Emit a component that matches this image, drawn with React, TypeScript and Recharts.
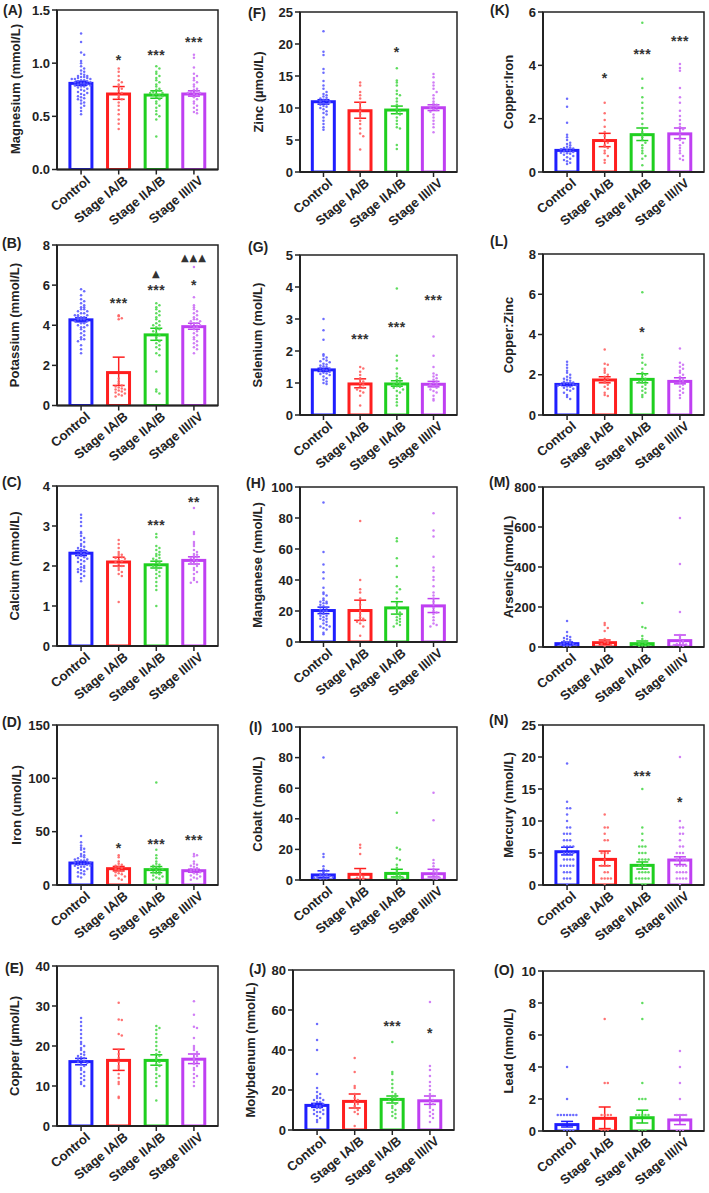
import React from "react";
import {
  Bar,
  ComposedChart,
  ErrorBar,
  ReferenceArea,
  Scatter,
  XAxis,
  YAxis,
} from "recharts";

// groups shared by every panel
const groups = ["Control", "Stage IA/B", "Stage IIA/B", "Stage III/IV"];
const barColors = ["#1f1fff", "#ff1f1f", "#1fcf1f", "#bf3ff2"];
const dotColors = ["#5c5cff", "#ff6262", "#4ed84e", "#cc70f5"];

// (A) Magnesium
const mgMeans = [0.81, 0.71, 0.7, 0.71];
const mgErr = [[0.79, 0.83], [0.66, 0.78], [0.67, 0.74], [0.69, 0.74]];
const mgDots = [
  [1.28, 1.2, 1.1, 1.08, 1.02, 1.0, 0.97, 0.95, 0.93, 0.92, 0.9, 0.89, 0.88, 0.88, 0.87, 0.87, 0.86, 0.86, 0.85, 0.85, 0.85, 0.84, 0.84, 0.83, 0.83, 0.82, 0.82, 0.81, 0.81, 0.8, 0.8, 0.79, 0.79, 0.78, 0.78, 0.77, 0.76, 0.75, 0.74, 0.73, 0.72, 0.71, 0.7, 0.69, 0.68, 0.67, 0.66, 0.65, 0.63, 0.62, 0.6, 0.58, 0.55, 0.52],
  [0.95, 0.92, 0.88, 0.84, 0.82, 0.8, 0.78, 0.76, 0.74, 0.72, 0.7, 0.68, 0.66, 0.63, 0.6, 0.56, 0.52, 0.47, 0.43, 0.38],
  [0.97, 0.95, 0.92, 0.9, 0.88, 0.86, 0.84, 0.82, 0.8, 0.78, 0.76, 0.75, 0.74, 0.73, 0.72, 0.72, 0.71, 0.7, 0.7, 0.69, 0.68, 0.66, 0.64, 0.62, 0.6, 0.58, 0.55, 0.52, 0.5, 0.47, 0.31],
  [1.08, 1.05, 0.96, 0.9, 0.88, 0.86, 0.84, 0.82, 0.8, 0.78, 0.76, 0.75, 0.74, 0.73, 0.72, 0.72, 0.71, 0.7, 0.68, 0.66, 0.64, 0.62, 0.6, 0.58, 0.56, 0.54, 0.53],
];
const mgSig = [[1, "*", 1.05], [2, "***", 1.1], [3, "***", 1.22]];

// (B) Potassium
const kMeans = [4.27, 1.64, 3.52, 3.93];
const kErr = [[4.17, 4.38], [1.0, 2.41], [3.25, 3.85], [3.8, 4.1]];
const kDots = [
  [5.8, 5.7, 5.5, 5.3, 5.2, 5.1, 5.0, 4.9, 4.9, 4.8, 4.8, 4.7, 4.7, 4.6, 4.6, 4.5, 4.5, 4.5, 4.4, 4.4, 4.4, 4.3, 4.3, 4.3, 4.2, 4.2, 4.1, 4.1, 4.0, 4.0, 3.9, 3.9, 3.8, 3.7, 3.6, 3.5, 3.4, 3.3, 3.3, 3.2, 3.0, 2.8, 2.6],
  [4.5, 4.45, 4.35, 4.3, 1.35, 1.2, 1.1, 1.0, 0.95, 0.9, 0.85, 0.8, 0.8, 0.75, 0.7, 0.65, 0.6, 0.55, 0.5, 0.45],
  [5.1, 5.0, 4.9, 4.8, 4.7, 4.6, 4.5, 4.4, 4.3, 4.2, 4.1, 4.0, 4.0, 3.9, 3.8, 3.8, 3.7, 3.6, 3.5, 3.4, 3.3, 3.2, 3.1, 3.0, 2.9, 2.8, 2.6, 2.5, 1.7, 0.8, 0.7, 0.6],
  [6.9, 5.4, 5.0, 4.9, 4.8, 4.7, 4.6, 4.5, 4.4, 4.3, 4.3, 4.2, 4.2, 4.1, 4.1, 4.0, 4.0, 3.9, 3.9, 3.8, 3.7, 3.6, 3.5, 3.4, 3.3, 3.2, 3.1, 3.0, 2.9, 2.8, 2.6],
];
const kSig = [[1, "***", 5.2], [2, "***", 5.84], [2, "▲", 6.59], [3, "*", 6.09], [3, "▲▲▲", 7.42]];

// (C) Calcium
const caMeans = [2.32, 2.1, 2.03, 2.14];
const caErr = [[2.26, 2.38], [2.0, 2.22], [1.95, 2.12], [2.05, 2.23]];
const caDots = [
  [3.28, 3.2, 3.1, 3.0, 2.85, 2.82, 2.75, 2.7, 2.65, 2.6, 2.55, 2.5, 2.48, 2.45, 2.42, 2.4, 2.38, 2.35, 2.33, 2.3, 2.28, 2.25, 2.22, 2.2, 2.18, 2.15, 2.12, 2.1, 2.05, 2.0, 1.97, 1.95, 1.92, 1.9, 1.87, 1.85, 1.8, 1.75, 1.7, 1.62],
  [2.65, 2.55, 2.45, 2.35, 2.3, 2.28, 2.25, 2.22, 2.2, 2.18, 2.15, 2.12, 2.1, 2.05, 2.0, 1.95, 1.9, 1.85, 1.8, 1.75, 1.1],
  [2.8, 2.72, 2.5, 2.45, 2.4, 2.35, 2.3, 2.28, 2.25, 2.2, 2.18, 2.15, 2.1, 2.08, 2.05, 2.0, 1.98, 1.95, 1.9, 1.85, 1.8, 1.75, 1.7, 1.6, 1.5, 1.4, 1.0],
  [3.45, 2.85, 2.8, 2.6, 2.55, 2.5, 2.4, 2.35, 2.3, 2.28, 2.25, 2.22, 2.2, 2.15, 2.12, 2.1, 2.05, 2.0, 1.95, 1.9, 1.85, 1.8, 1.7, 1.65, 1.6, 1.58],
];
const caSig = [[2, "***", 3.07], [3, "**", 3.65]];

// (D) Iron
const feMeans = [20.6, 15.3, 14.4, 13.4];
const feErr = [[19.2, 22.0], [13.2, 17.4], [11.5, 17.3], [12.0, 14.8]];
const feDots = [
  [46, 40, 37, 35, 34, 33, 31, 29, 28, 27, 26, 25, 24, 24, 23, 23, 22, 22, 21, 21, 20, 20, 19, 19, 18, 18, 17, 17, 16, 15, 14, 13, 12, 11, 10, 8, 7],
  [28, 26, 22, 20, 19, 18, 17, 16, 15, 14, 13, 12, 11, 10, 9, 8, 6, 5],
  [96, 33, 28, 25, 22, 20, 19, 18, 17, 16, 16, 15, 15, 14, 13, 12, 11, 10, 9, 8, 7, 6, 5],
  [29, 28, 27, 22, 20, 19, 18, 17, 16, 15, 14, 14, 13, 12, 11, 10, 9, 8, 7, 6, 5],
];
const feSig = [[1, "*", 37], [2, "***", 40], [3, "***", 44]];

// (E) Copper
const cuMeans = [16.1, 16.4, 16.4, 16.7];
const cuErr = [[15.3, 16.9], [13.9, 19.2], [15.2, 17.8], [15.6, 18.0]];
const cuDots = [
  [27, 26, 25, 24, 23, 22, 21, 20.5, 20, 19.5, 19, 18.5, 18, 17.8, 17.5, 17.2, 17, 16.8, 16.5, 16.2, 16, 15.8, 15.5, 15, 14.5, 14, 13.5, 13, 12.5, 12, 11.5, 11, 10.5, 10],
  [30.8, 26.6, 26.5, 23, 22.6, 19, 18, 17, 16, 15, 14.5, 13, 12, 11, 10.5, 7.3, 7.0],
  [25, 24.5, 24, 23, 22, 21, 20, 19, 18.5, 18, 17.5, 17, 16.5, 16, 15.5, 15, 14.5, 14, 13, 12.5, 12, 11, 10, 6.4],
  [31.2, 27.8, 24.8, 24.5, 22, 20, 19.5, 19, 18.5, 18, 17.5, 17, 16.5, 16, 15.5, 15, 14.5, 14, 13, 12.5, 12, 11, 10],
];
const cuSig: (string | number)[][] = [];

// (F) Zinc
const znMeans = [10.98, 9.57, 9.68, 10.04];
const znErr = [[10.6, 11.3], [8.4, 10.9], [9.1, 10.3], [9.6, 10.5]];
const znDots = [
  [22, 18.8, 18.3, 16.1, 15.5, 14.2, 13.5, 13, 12.5, 12.2, 12, 11.8, 11.6, 11.5, 11.3, 11.2, 11, 10.9, 10.8, 10.6, 10.5, 10.3, 10.2, 10, 9.8, 9.5, 9.2, 9, 8.5, 8, 7.5, 7, 6.6],
  [14, 13.5, 12.5, 12, 11.5, 10.8, 10, 9.5, 9, 8.5, 8, 7.5, 6.8, 6, 5.6, 3.5],
  [16.2, 14.3, 14, 13.5, 12.7, 12.2, 12, 11.5, 11, 10.5, 10, 9.8, 9.5, 9.2, 9, 8.5, 8, 7.5, 7, 6.8, 4.2, 3.6],
  [15.3, 14.8, 14, 13.5, 13, 12.5, 12, 11.5, 11, 10.7, 10.5, 10.3, 10.2, 10, 9.8, 9.7, 9.4, 9, 8.5, 8, 7.5, 7, 6.2],
];
const znSig = [[2, "*", 19.1]];

// (G) Selenium
const seMeans = [1.41, 0.97, 0.97, 0.96];
const seErr = [[1.36, 1.46], [0.85, 1.13], [0.9, 1.07], [0.88, 1.05]];
const seDots = [
  [3.0, 2.65, 2.35, 1.9, 1.85, 1.8, 1.75, 1.7, 1.68, 1.65, 1.6, 1.58, 1.55, 1.52, 1.5, 1.48, 1.45, 1.42, 1.4, 1.38, 1.35, 1.32, 1.3, 1.28, 1.25, 1.2, 1.15, 1.1, 1.05, 1.0, 0.97],
  [1.5, 1.45, 1.35, 1.25, 1.15, 1.1, 1.05, 1.0, 0.95, 0.9, 0.85, 0.8, 0.75, 0.7, 0.6, 0.3],
  [3.95, 1.85, 1.7, 1.45, 1.3, 1.2, 1.15, 1.1, 1.05, 1.0, 0.98, 0.95, 0.9, 0.88, 0.85, 0.8, 0.75, 0.7, 0.6, 0.5, 0.4, 0.3],
  [2.45, 1.85, 1.5, 1.3, 1.25, 1.2, 1.15, 1.1, 1.05, 1.0, 0.98, 0.95, 0.9, 0.85, 0.8, 0.75, 0.7, 0.6, 0.5, 0.45],
];
const seSig = [[1, "***", 2.43], [2, "***", 2.81], [3, "***", 3.67]];

// (H) Manganese
const mnMeans = [20.3, 20.3, 22.0, 23.3];
const mnErr = [[18.3, 22.5], [14.0, 27.0], [18.0, 26.0], [19.0, 28.0]];
const mnDots = [
  [90, 58, 50, 45, 41, 35, 32, 31, 30, 28, 27, 26, 26, 25, 25, 24, 23, 22, 21, 20, 20, 19, 18, 17, 17, 16, 15, 15, 14, 13, 12, 11, 10, 10, 9, 8, 6, 5],
  [78, 40, 34, 32, 28, 24, 20, 18, 16, 15, 14, 14, 13, 12, 10, 4],
  [67, 65, 54, 49, 42, 36, 34, 32, 28, 25, 22, 20, 19, 18, 17, 16, 15, 14, 13, 12, 11, 10],
  [83, 72, 68, 55, 48, 46, 42, 40, 36, 32, 30, 28, 26, 24, 22, 20, 19, 18, 16, 14, 12, 11, 10],
];
const mnSig: (string | number)[][] = [];

// (I) Cobalt
const coMeans = [3.3, 3.7, 4.3, 4.1];
const coErr = [[1.5, 6.0], [0.5, 7.5], [2.0, 7.0], [2.0, 7.0]];
const coDots = [
  [80, 17, 15, 9, 7, 6, 5, 4, 4, 3, 3, 3, 2.5, 2, 2, 1.5, 1, 1, 0.5],
  [23, 21, 17, 6, 4, 3, 2, 1.5, 1, 0.5],
  [44, 21, 20, 14, 13, 10, 8, 6, 5, 4, 3, 2.5, 2, 1.5, 1, 0.5],
  [57, 39, 13, 11, 9, 7, 6, 5, 4, 3, 2.5, 2, 1.5, 1, 0.5],
];
const coSig: (string | number)[][] = [];

// (J) Molybdenum
const moMeans = [12.3, 14.3, 15.3, 14.6];
const moErr = [[11.3, 13.3], [11.0, 18.0], [13.5, 17.0], [12.8, 17.0]];
const moDots = [
  [53, 45, 40, 28, 21, 19, 18, 17, 16, 16, 15, 15, 14, 14, 13, 13, 12, 12, 11, 11, 10, 10, 9, 9, 8, 8, 7, 6, 5, 4],
  [36, 29, 22, 21, 18, 16, 15, 14, 13, 12, 11, 10, 9, 8, 2],
  [44, 29, 28, 25, 23, 21, 19, 18, 17, 17, 16, 16, 15, 15, 14, 13, 12, 11, 10, 9, 8, 7, 6],
  [64, 32, 30, 27, 24, 22, 20, 18, 17, 17, 16, 15, 14, 13, 12, 11, 10, 9, 8, 7, 6, 4],
];
const moSig = [[2, "***", 52.9], [3, "*", 49.6]];

// (K) Copper:Iron
const cuFeMeans = [0.81, 1.18, 1.4, 1.43];
const cuFeErr = [[0.77, 0.85], [0.95, 1.45], [1.18, 1.65], [1.25, 1.65]];
const cuFeDots = [
  [2.75, 2.45, 1.85, 1.4, 1.3, 1.2, 1.1, 1.05, 1.0, 0.95, 0.92, 0.9, 0.88, 0.85, 0.82, 0.8, 0.78, 0.75, 0.72, 0.7, 0.68, 0.65, 0.6, 0.55, 0.5, 0.45, 0.4, 0.35, 0.3],
  [2.6, 2.2, 1.95, 1.7, 1.5, 1.35, 1.2, 1.1, 1.0, 0.95, 0.9, 0.8, 0.7, 0.6, 0.45, 0.35],
  [5.6, 3.5, 3.15, 2.8, 2.6, 2.4, 2.2, 2.0, 1.8, 1.65, 1.5, 1.4, 1.3, 1.2, 1.1, 1.0, 0.9, 0.8, 0.7, 0.6, 0.5, 0.25],
  [4.05, 3.9, 3.8, 3.15, 2.8, 2.6, 2.3, 2.1, 1.95, 1.8, 1.7, 1.6, 1.5, 1.4, 1.3, 1.2, 1.1, 1.0, 0.9, 0.8, 0.7, 0.6, 0.5, 0.45],
];
const cuFeSig = [[1, "*", 3.59], [2, "***", 4.5], [3, "***", 4.99]];

// (L) Copper:Zinc
const cuZnMeans = [1.52, 1.74, 1.77, 1.67];
const cuZnErr = [[1.46, 1.58], [1.6, 1.9], [1.6, 2.05], [1.55, 1.85]];
const cuZnDots = [
  [2.65, 2.5, 2.35, 2.2, 2.1, 2.0, 1.9, 1.85, 1.8, 1.75, 1.7, 1.65, 1.62, 1.6, 1.58, 1.55, 1.52, 1.5, 1.48, 1.45, 1.42, 1.4, 1.35, 1.3, 1.25, 1.2, 1.1, 1.0, 0.9, 0.8],
  [3.25, 2.55, 2.5, 2.3, 2.2, 2.1, 2.0, 1.9, 1.8, 1.7, 1.6, 1.5, 1.4, 1.3, 1.1, 1.0, 0.95],
  [6.1, 3.0, 2.85, 2.6, 2.5, 2.3, 2.1, 2.0, 1.9, 1.8, 1.75, 1.7, 1.65, 1.6, 1.5, 1.4, 1.3, 1.2, 1.1, 1.0, 0.9],
  [3.3, 2.6, 2.5, 2.4, 2.3, 2.2, 2.1, 2.0, 1.9, 1.8, 1.75, 1.7, 1.6, 1.5, 1.4, 1.3, 1.2, 1.1, 1.0, 0.85],
];
const cuZnSig = [[2, "*", 4.22]];

// (M) Arsenic
const asMeans = [16.7, 21.7, 16.7, 31.8];
const asErr = [[10, 25], [12, 35], [8, 30], [10, 60]];
const asDots = [
  [130, 75, 55, 50, 45, 40, 35, 30, 25, 20, 18, 15, 12, 10, 8, 5, 3],
  [120, 110, 95, 80, 40, 30, 25, 20, 15, 10, 5],
  [220, 100, 95, 55, 40, 30, 25, 20, 15, 10, 8, 5, 3],
  [645, 415, 175, 60, 50, 40, 30, 25, 20, 15, 12, 10, 8, 5],
];
const asSig: (string | number)[][] = [];

// (N) Mercury
const hgMeans = [5.2, 4.0, 3.07, 3.9];
const hgErr = [[4.7, 5.9], [3.0, 5.3], [2.5, 3.6], [3.2, 4.4]];
const hgDots = [
  [19, 13, 12, 12, 11, 10, 9, 9, 8, 8, 8, 7, 7, 7, 6, 6, 6, 6, 5, 5, 5, 5, 4, 4, 4, 4, 3, 3, 3, 3, 3, 2, 2, 2, 1, 1, 1, 0],
  [11, 9, 9, 8, 7, 7, 5, 5, 5, 4, 3, 3, 3, 2, 2, 1, 1, 1, 1, 0],
  [15, 9, 8, 7, 6, 6, 6, 5, 5, 5, 4, 4, 4, 4, 3, 3, 3, 2, 2, 2, 2, 1, 1, 1, 1, 1, 0, 0],
  [20, 10, 9, 9, 8, 8, 7, 6, 6, 5, 5, 5, 4, 4, 4, 4, 3, 3, 3, 3, 2, 2, 2, 2, 1, 1, 1, 1, 0],
];
const hgSig = [[2, "***", 17.3], [3, "*", 13.3]];

// (O) Lead
const pbMeans = [0.4, 0.79, 0.83, 0.69];
const pbErr = [[0.25, 0.6], [0.15, 1.5], [0.5, 1.3], [0.4, 1.0]];
const pbDots = [
  [4, 2, 1, 1, 1, 1, 1, 1, 1, 0, 0, 0, 0],
  [7, 3, 3, 1, 1, 1, 1, 0, 0, 0],
  [8, 7, 3, 2, 2, 2, 1, 1, 1, 1, 1, 0, 0, 0],
  [5, 4, 3, 2, 1, 1, 1, 1, 0, 0, 0],
];
const pbSig: (string | number)[][] = [];

const FONT = "'Liberation Sans', Arial, Helvetica, sans-serif";
const INK = "#232323";
const X_DOMAIN: [number, number] = [-0.64, 3.64];
const BAR_W = 22;

// layout: plot box [left, top, width, height], letter spot, y-title centre x
const panels = [
  { letter: "(A)", title: "Magnesium (mmol/L)", yMax: 1.5, ticks: [0, 0.5, 1, 1.5], dec: 1, means: mgMeans, err: mgErr, dots: mgDots, sig: mgSig, box: [57, 9.5, 161, 159.5], lt: [3, 10], tx: 16 },
  { letter: "(B)", title: "Potassium (mmol/L)", yMax: 8, ticks: [0, 2, 4, 6, 8], dec: 0, means: kMeans, err: kErr, dots: kDots, sig: kSig, box: [57, 245, 161, 160.5], lt: [2, 243], tx: 15 },
  { letter: "(C)", title: "Calcium (mmol/L)", yMax: 4, ticks: [0, 1, 2, 3, 4], dec: 0, means: caMeans, err: caErr, dots: caDots, sig: caSig, box: [57, 486, 161, 160], lt: [2, 482], tx: 15 },
  { letter: "(D)", title: "Iron (umol/L)", yMax: 150, ticks: [0, 50, 100, 150], dec: 0, means: feMeans, err: feErr, dots: feDots, sig: feSig, box: [57, 725, 161, 160], lt: [2, 722], tx: 17 },
  { letter: "(E)", title: "Copper (µmol/L)", yMax: 40, ticks: [0, 10, 20, 30, 40], dec: 0, means: cuMeans, err: cuErr, dots: cuDots, sig: cuSig, box: [57, 966, 161, 160], lt: [5, 968], tx: 15 },
  { letter: "(F)", title: "Zinc (µmol/L)", yMax: 25, ticks: [0, 5, 10, 15, 20, 25], dec: 0, means: znMeans, err: znErr, dots: znDots, sig: znSig, box: [300, 12, 157, 160], lt: [248, 13], tx: 259 },
  { letter: "(G)", title: "Selenium (mol/L)", yMax: 5, ticks: [0, 1, 2, 3, 4, 5], dec: 0, means: seMeans, err: seErr, dots: seDots, sig: seSig, box: [300, 255, 157, 160], lt: [248, 247], tx: 258 },
  { letter: "(H)", title: "Manganese (nmol/L)", yMax: 100, ticks: [0, 20, 40, 60, 80, 100], dec: 0, means: mnMeans, err: mnErr, dots: mnDots, sig: mnSig, box: [300, 487, 157, 155], lt: [246, 483], tx: 258 },
  { letter: "(I)", title: "Cobalt (nmol/L)", yMax: 100, ticks: [0, 20, 40, 60, 80, 100], dec: 0, means: coMeans, err: coErr, dots: coDots, sig: coSig, box: [300, 727, 157, 153], lt: [249, 727], tx: 258 },
  { letter: "(J)", title: "Molybdenum (nmol/L)", yMax: 80, ticks: [0, 20, 40, 60, 80], dec: 0, means: moMeans, err: moErr, dots: moDots, sig: moSig, box: [293, 970, 161, 160], lt: [249, 969], tx: 251 },
  { letter: "(K)", title: "Copper:Iron", yMax: 6, ticks: [0, 2, 4, 6], dec: 0, means: cuFeMeans, err: cuFeErr, dots: cuFeDots, sig: cuFeSig, box: [543, 12, 161, 160], lt: [490, 10], tx: 509 },
  { letter: "(L)", title: "Copper:Zinc", yMax: 8, ticks: [0, 2, 4, 6, 8], dec: 0, means: cuZnMeans, err: cuZnErr, dots: cuZnDots, sig: cuZnSig, box: [543, 254, 161, 161], lt: [490, 241], tx: 509 },
  { letter: "(M)", title: "Arsenic (nmol/L)", yMax: 800, ticks: [0, 200, 400, 600, 800], dec: 0, means: asMeans, err: asErr, dots: asDots, sig: asSig, box: [543, 487, 161, 160], lt: [489, 482], tx: 509 },
  { letter: "(N)", title: "Mercury (nmol/L)", yMax: 25, ticks: [0, 5, 10, 15, 20, 25], dec: 0, means: hgMeans, err: hgErr, dots: hgDots, sig: hgSig, box: [543, 725, 161, 160], lt: [489, 720], tx: 509 },
  { letter: "(O)", title: "Lead (nmol/L)", yMax: 10, ticks: [0, 2, 4, 6, 8, 10], dec: 0, means: pbMeans, err: pbErr, dots: pbDots, sig: pbSig, box: [543, 971, 161, 160], lt: [494, 970], tx: 509 },
];

// simple beeswarm: points falling in the same value bin are spread sideways
function swarm(vals: number[], g: number, binH: number, step: number) {
  const used = new Map<number, number>();
  return vals.map((v) => {
    const b = Math.round(v / binH);
    const k = used.get(b) ?? 0;
    used.set(b, k + 1);
    const off = k === 0 ? 0 : (k % 2 ? 1 : -1) * Math.ceil(k / 2);
    return { x: g + off * step, y: v };
  });
}

const XTick = (props: any) => {
  const { x, y, payload } = props;
  const ax = x + 7;
  const ay = y + 2;
  return (
    <text
      x={ax}
      y={ay}
      textAnchor="end"
      dominantBaseline="central"
      transform={`rotate(-40 ${ax} ${ay})`}
      fontSize={13}
      fontWeight={700}
      fontFamily={FONT}
      fill={INK}
    >
      {groups[payload?.value] ?? ""}
    </text>
  );
};

// hollow bar: centre and height come from the bar's scales
const HollowBar = (props: any) => {
  const { x, y, width, height, index } = props;
  if (x == null || y == null || height == null) return <g />;
  const cx = x + (width || 0) / 2;
  return (
    <rect
      x={cx - BAR_W / 2}
      y={y}
      width={BAR_W}
      height={Math.max(height, 0)}
      fill="none"
      stroke={barColors[index] ?? INK}
      strokeWidth={3}
    />
  );
};

const DotShape = (props: any) => {
  if (props.cx == null || props.cy == null) return <g />;
  return <circle cx={props.cx} cy={props.cy} r={1.25} fill={props.fill} fillOpacity={0.9} />;
};

const NoShape = () => <g />;

const SigShape = (props: any) => {
  const t = String(props?.payload?.t ?? props?.t ?? "");
  if (!t || props.cx == null || props.cy == null) return <g />;
  const tri = t.includes("▲");
  return (
    <text
      x={props.cx}
      y={props.cy + (tri ? 4 : 7)}
      textAnchor="middle"
      fontSize={tri ? 10 : 14}
      fontWeight={700}
      fontFamily={tri ? "'DejaVu Sans', sans-serif" : FONT}
      letterSpacing={tri ? 1 : 0.5}
      fill="#333"
    >
      {t}
    </text>
  );
};

function Panel({ p }: { p: (typeof panels)[number] }) {
  const [px, py, pw, ph] = p.box;
  const YW = 60;
  const MT = 20;
  const MR = 4;
  const XH = 80;
  const unit = pw / (X_DOMAIN[1] - X_DOMAIN[0]);
  const bars = p.means.map((m, i) => ({ x: i, y: m }));
  const dots = p.dots.map((vals, g) => swarm(vals, g, (p.yMax / ph) * 3.4, 3.1 / unit));
  const sig = p.sig.map(([g, t, y]) => ({ x: g as number, y: y as number, t }));

  return (
    <>
      <div
        style={{
          position: "absolute",
          left: p.lt[0],
          top: p.lt[1] - 8,
          lineHeight: "16px",
          fontFamily: FONT,
          fontWeight: 700,
          fontSize: 14,
          color: INK,
          whiteSpace: "nowrap",
        }}
      >
        {p.letter}
      </div>
      <div
        style={{
          position: "absolute",
          left: p.tx - 100,
          top: py + ph / 2 - 8,
          width: 200,
          lineHeight: "16px",
          textAlign: "center",
          transform: "rotate(-90deg)",
          fontFamily: FONT,
          fontWeight: 700,
          fontSize: 13,
          color: INK,
          whiteSpace: "nowrap",
        }}
      >
        {p.title}
      </div>
      <div style={{ position: "absolute", left: px - YW, top: py - MT }}>
        <ComposedChart
          width={YW + pw + MR}
          height={MT + ph + XH}
          data={bars}
          margin={{ top: MT, right: MR, left: 0, bottom: 0 }}
        >
          <XAxis
            type="number"
            dataKey="x"
            domain={X_DOMAIN}
            ticks={[0, 1, 2, 3]}
            interval={0}
            allowDataOverflow
            height={XH}
            tick={<XTick />}
            tickSize={5}
            axisLine={{ stroke: INK, strokeWidth: 2 }}
            tickLine={{ stroke: INK, strokeWidth: 1.5 }}
          />
          <YAxis
            type="number"
            dataKey="y"
            domain={[0, p.yMax]}
            ticks={p.ticks}
            interval={0}
            allowDataOverflow
            width={YW}
            tickSize={5}
            tickFormatter={(v: number) => v.toFixed(p.dec)}
            tick={{ fontSize: 13, fontWeight: 700, fill: INK, fontFamily: FONT }}
            axisLine={{ stroke: INK, strokeWidth: 2 }}
            tickLine={{ stroke: INK, strokeWidth: 1.5 }}
          />
          <ReferenceArea
            x1={X_DOMAIN[0]}
            x2={X_DOMAIN[1]}
            y1={0}
            y2={p.yMax}
            fill="none"
            fillOpacity={0}
            stroke={INK}
            strokeWidth={1.5}
          />
          <Bar dataKey="y" barSize={BAR_W} shape={HollowBar} isAnimationActive={false} />
          {dots.map((d, g) => (
            <Scatter
              key={`d${g}`}
              data={d}
              dataKey="y"
              fill={dotColors[g]}
              shape={DotShape}
              isAnimationActive={false}
            />
          ))}
          {p.means.map((m, g) => (
            <Scatter
              key={`e${g}`}
              data={[{ x: g, y: m, e: [m - p.err[g][0], p.err[g][1] - m] }]}
              dataKey="y"
              shape={NoShape}
              isAnimationActive={false}
            >
              <ErrorBar dataKey="e" direction="y" width={6} stroke={barColors[g]} strokeWidth={1.5} />
            </Scatter>
          ))}
          <Scatter data={sig} dataKey="y" shape={SigShape} isAnimationActive={false} />
        </ComposedChart>
      </div>
    </>
  );
}

export default function App() {
  return (
    <div
      style={{
        position: "absolute",
        left: 0,
        top: 0,
        width: 709,
        height: 1193,
        background: "#fff",
        overflow: "hidden",
      }}
    >
      {panels.map((p) => (
        <Panel key={p.letter} p={p} />
      ))}
    </div>
  );
}
